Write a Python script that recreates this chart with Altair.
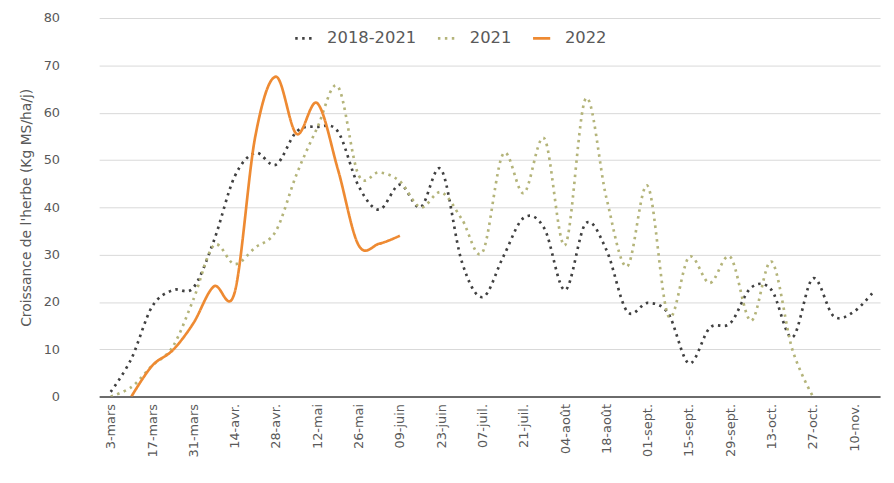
import json
import altair as alt
import pandas as pd

weeks = ["3-mars", "10-mars", "17-mars", "24-mars", "31-mars", "07-avr.", "14-avr.", "21-avr.",
         "28-avr.", "05-mai", "12-mai", "19-mai", "26-mai", "02-juin", "09-juin", "16-juin",
         "23-juin", "30-juin", "07-juil.", "14-juil.", "21-juil.", "28-juil.", "04-août", "11-août",
         "18-août", "25-août", "01-sept.", "08-sept.", "15-sept.", "22-sept.", "29-sept.", "06-oct.",
         "13-oct.", "20-oct.", "27-oct.", "03-nov.", "10-nov.", "17-nov."]

moy_2018_2021 = [1, 8, 19, 22.5, 23, 33, 46.5, 51.5, 49, 56, 57, 56, 44.5, 39.5, 44.8, 40,
                 48, 28.5, 21, 29.5, 37.8, 35.5, 22.5, 36.6, 31, 18, 19.8, 17.5, 7, 14.5,
                 15.5, 23, 22.5, 12.5, 25, 17, 18, 22.5]
y2021 = [0, 2, 6.5, 10.5, 20.5, 32, 28, 31.5, 35, 47, 56.8, 65.5, 46.8, 47.4, 45.5, 40,
         43.2, 37.5, 30.5, 51.3, 43, 54.5, 32, 63, 42, 27.5, 44.5, 17, 29.5, 24, 29.5, 16,
         28.5, 10, 0]
y2022_start = 1
y2022 = [0, 6.5, 9.8, 15.5, 23.3, 22, 55, 67.6, 55.5, 62, 48, 32, 32.3, 34]

series = ["2018-2021", "2021", "2022"]
colors = ["#404040", "#b4b47a", "#EE8A32"]

rows = []
for i, v in enumerate(moy_2018_2021):
    rows.append({"semaine": i, "label": weeks[i], "serie": "2018-2021", "valeur": v})
for i, v in enumerate(y2021):
    rows.append({"semaine": i, "label": weeks[i], "serie": "2021", "valeur": v})
for k, v in enumerate(y2022):
    i = y2022_start + k
    rows.append({"semaine": i, "label": weeks[i], "serie": "2022", "valeur": v})
df = pd.DataFrame(rows)

label_expr = json.dumps(weeks, ensure_ascii=False) + "[datum.value]"

font = "DejaVu Sans"
grey = "#595959"

chart = alt.Chart(df).mark_line(interpolate="cardinal", clip=True).encode(
    x=alt.X("semaine:Q",
            scale=alt.Scale(domain=[-0.56, 37.25], nice=False, zero=False),
            axis=alt.Axis(title=None, values=list(range(0, 37, 2)), labelExpr=label_expr,
                          labelAngle=-90, labelFont=font, labelFontSize=13, labelColor=grey,
                          labelPadding=7, ticks=False, grid=False, domainColor="#404040",
                          domainWidth=1.5)),
    y=alt.Y("valeur:Q",
            scale=alt.Scale(domain=[0, 80], nice=False),
            axis=alt.Axis(title="Croissance de l'herbe (Kg MS/ha/j)", values=list(range(0, 81, 10)),
                          labelFont=font, labelFontSize=13, labelColor=grey, labelPadding=40,
                          titleFont=font, titleFontSize=14, titleColor=grey, titleFontWeight="normal",
                          titlePadding=10, ticks=False, domain=False, gridColor="#d9d9d9")),
    color=alt.Color("serie:N", scale=alt.Scale(domain=series, range=colors),
                    legend=alt.Legend(title=None, orient="none", direction="horizontal",
                                      legendX=196, legendY=10, symbolType="stroke",
                                      symbolSize=300, labelFont=font, labelFontSize=16.5,
                                      labelColor=grey, columnPadding=16, labelOffset=13)),
    strokeDash=alt.StrokeDash("serie:N", scale=alt.Scale(domain=series,
                                                         range=[[2.5, 4.5], [2.5, 4.5], [1, 0]])),
    strokeWidth=alt.StrokeWidth("serie:N", scale=alt.Scale(domain=series, range=[2.7, 2.7, 4.6])),
).properties(
    width=788, height=382,
    autosize=alt.AutoSizeParams(type="none"),
    padding={"left": 92, "top": 8, "right": 6, "bottom": 75},
).configure_view(stroke=None)

chart.save("out.html", embed_options={"renderer": "svg", "actions": False})
